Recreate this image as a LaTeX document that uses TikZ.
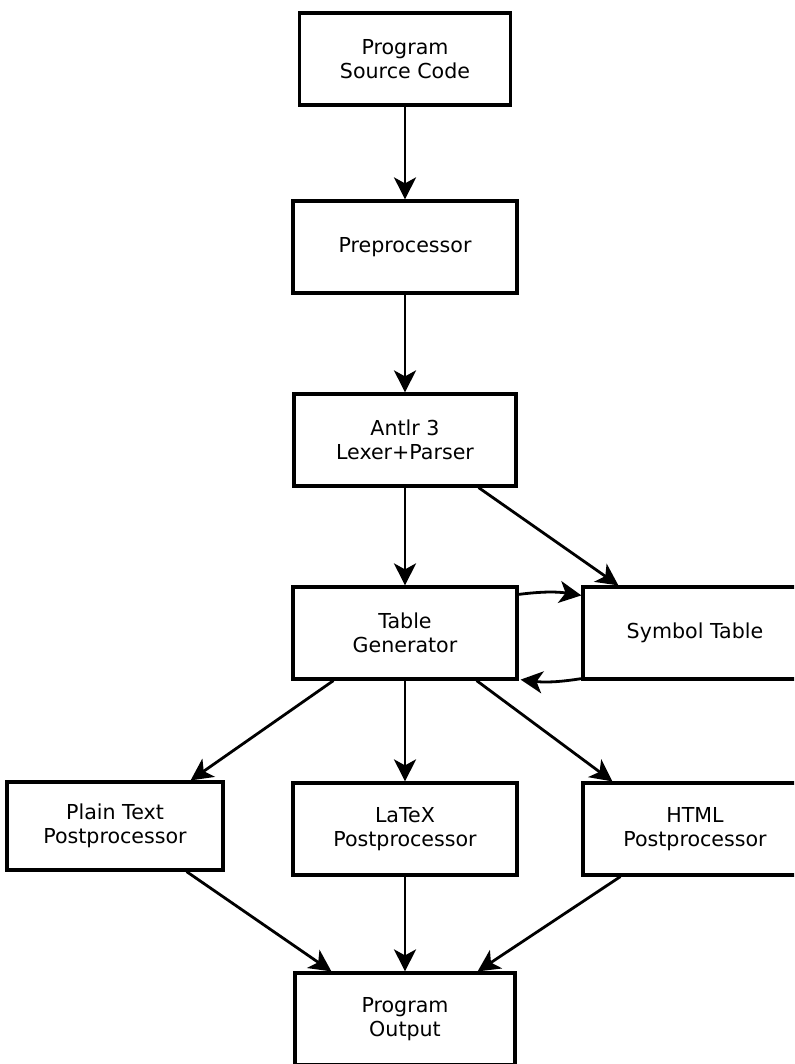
\documentclass[tikz,border=0pt]{standalone}
\usepackage{fontspec}
\setmainfont{DejaVu Sans}
\usepackage{tikz}
\usetikzlibrary{positioning,shapes,arrows,arrows.meta}

\begin{document}
\begin{tikzpicture}[x=0.5pt, y=-0.5pt, >={Stealth[length=11pt,width=11pt,inset=3pt]}, node distance=96.5pt]
  \clip (0,0) rectangle (794,1064);

  \tikzset{block/.style={draw, line width=1.6pt, rectangle, align=center,
      minimum width=112pt, minimum height=46pt, inner sep=0pt,
      font=\fontsize{10.3}{12.2}\selectfont}}

  \node[block, minimum width=105.5pt] (src) at (405,59) {Program\\Source Code};
  \node[block] (pre) [below of=src, node distance=94pt] {Preprocessor};
  \node[block, minimum width=111pt] (antlr) [below of=pre] {Antlr 3\\Lexer+Parser};
  \node[block] (tg) [below of=antlr] {Table\\Generator};
  \node[block] (st) [right of=tg, node distance=145pt] {Symbol Table};
  \node[block] (latex) [below of=tg, node distance=98pt] {LaTeX\\Postprocessor};
  \node[block, minimum width=108pt, minimum height=44pt] (plain) [left of=latex, node distance=145pt, yshift=1.5pt] {Plain Text\\Postprocessor};
  \node[block] (html) [right of=latex, node distance=145pt] {HTML\\Postprocessor};
  \node[block, minimum width=110pt] (out) [below of=latex, node distance=95pt] {Program\\Output};

  \tikzset{flow/.style={->, line width=1.4pt}}

  \path[->] (src) edge [flow] (pre);
  \path[->] (pre) edge [flow] (antlr);
  \path[->] (antlr) edge [flow] (tg);
  \path[->] ([xshift=-19.5pt]antlr.south east) edge [flow] ([xshift=18.5pt]st.north west);
  \path[->] ([yshift=-4.5pt]tg.north east) edge [flow, bend left=8] ([yshift=-5pt]st.north west);
  \path[->] ([yshift=1pt]st.south west) edge [flow, bend left=8] ([xshift=1pt,yshift=0.5pt]tg.south east);
  \path[->] ([xshift=21pt]tg.south west) edge [flow] ([xshift=-17pt]plain.north east);
  \path[->] (tg) edge [flow] (latex);
  \path[->] ([xshift=-21pt]tg.south east) edge [flow] ([xshift=15.5pt]html.north west);
  \path[->] ([xshift=-19pt]plain.south east) edge [flow] ([xshift=19pt]out.north west);
  \path[->] (latex) edge [flow] (out);
  \path[->] ([xshift=19.5pt]html.south west) edge [flow] ([xshift=-19.5pt]out.north east);
\end{tikzpicture}
\end{document}
